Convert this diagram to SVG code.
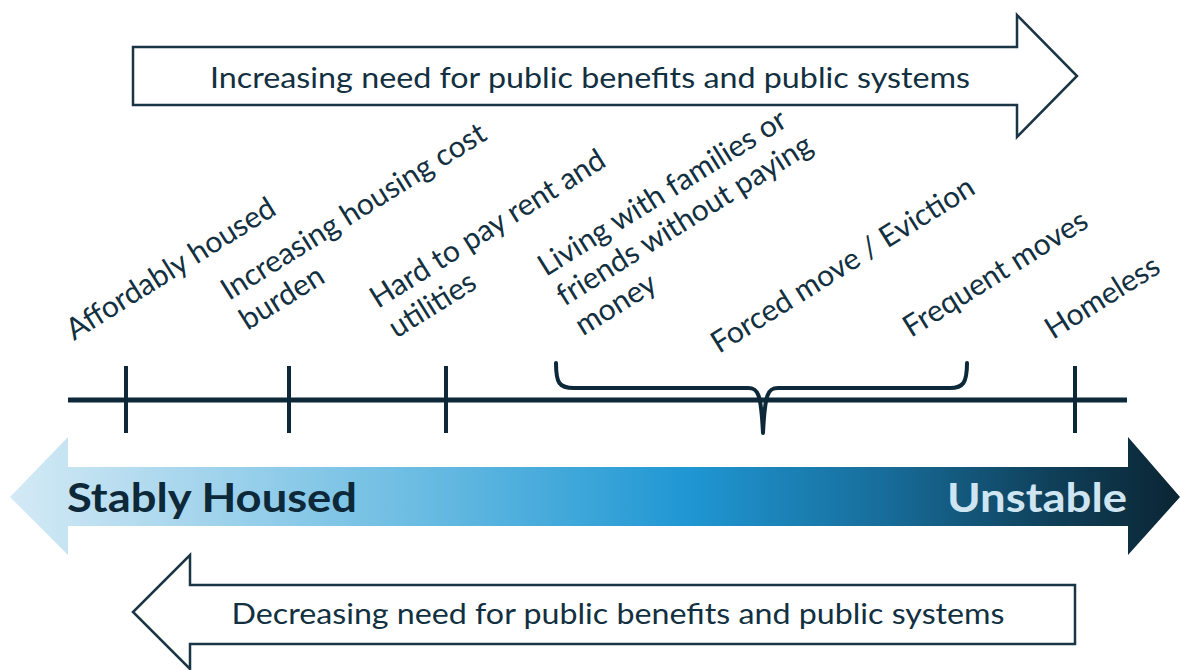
<svg xmlns="http://www.w3.org/2000/svg" width="1180" height="670" viewBox="0 0 1180 670">
<defs>
<linearGradient id="grad" gradientUnits="userSpaceOnUse" x1="10" y1="0" x2="1180" y2="0">
<stop offset="0" stop-color="#d4eaf5"/>
<stop offset="0.15" stop-color="#a8d6ed"/>
<stop offset="0.35" stop-color="#6abce2"/>
<stop offset="0.58" stop-color="#1f97d3"/>
<stop offset="0.75" stop-color="#176c99"/>
<stop offset="0.9" stop-color="#0f3d56"/>
<stop offset="1" stop-color="#0b2533"/>
</linearGradient>
<style>
.out{fill:#fff;stroke:#1a3545;stroke-width:2.5;stroke-linejoin:miter}
.big{font-family:Lato,"Liberation Sans",sans-serif;font-size:29px;fill:#12303f}
.lbl{font-family:Lato,"Liberation Sans",sans-serif;font-size:30px;fill:#12303f}
.ax{stroke:#0d2838;stroke-width:5;fill:none;stroke-linecap:butt}
.tick{stroke:#0d2838;stroke-width:4;fill:none}
.brace{stroke:#0d2838;stroke-width:4;fill:none;stroke-linecap:round;stroke-linejoin:round}
.bold{font-family:Lato,"Liberation Sans",sans-serif;font-weight:bold;font-size:40px}
</style>
</defs>
<rect width="1180" height="670" fill="#fff"/>

<g id="increasing-arrow">
<path class="out" d="M133,47 L1017,47 L1017,15 L1077,76 L1017,137 L1017,105 L133,105 Z"/>
<text class="big" x="590" y="88" text-anchor="middle" textLength="760" lengthAdjust="spacingAndGlyphs">Increasing need for public benefits and public systems</text>
</g>

<g id="labels">
<g id="affordably-housed" transform="translate(74,341) rotate(-32)"><text class="lbl" x="0" y="0">Affordably housed</text></g>
<g id="increasing-cost" transform="translate(229,301) rotate(-32)"><text class="lbl" x="0" y="0">Increasing housing cost<tspan x="0" dy="35">burden</tspan></text></g>
<g id="hard-to-pay" transform="translate(378,309) rotate(-32)"><text class="lbl" x="0" y="0">Hard to pay rent and<tspan x="0" dy="35">utilities</tspan></text></g>
<g id="living-with" transform="translate(546,277) rotate(-32)"><text class="lbl" x="0" y="0">Living with families or<tspan x="0" dy="35">friends without paying</tspan><tspan x="0" dy="35">money</tspan></text></g>
<g id="forced-move" transform="translate(719,354) rotate(-32)"><text class="lbl" x="0" y="0">Forced move / Eviction</text></g>
<g id="frequent-moves" transform="translate(911,338) rotate(-32)"><text class="lbl" x="0" y="0">Frequent moves</text></g>
<g id="homeless" transform="translate(1053,340) rotate(-32)"><text class="lbl" x="0" y="0">Homeless</text></g>
</g>

<g id="timeline">
<path class="ax" d="M68,400 H1127"/>
<path class="tick" d="M126,366 V433 M289,366 V433 M446,366 V433 M1075,366 V433"/>
<path class="brace" d="M556,363 C556,383 559,388 574,388 L748,388 C758,388 761,393 763,433 C765,393 768,388 778,388 L950,388 C963,388 967,383 967,363"/>
</g>

<g id="stability-arrow">
<path fill="url(#grad)" d="M10,497 L68,437 L68,467 L1128,467 L1128,437 L1180,497 L1128,555 L1128,526 L68,526 L68,555 Z"/>
<text class="bold" x="67" y="512" fill="#0d2838" textLength="290" lengthAdjust="spacingAndGlyphs">Stably Housed</text>
<text class="bold" x="1127" y="512" fill="#cfe6f2" text-anchor="end" textLength="180" lengthAdjust="spacingAndGlyphs">Unstable</text>
</g>

<g id="decreasing-arrow">
<path class="out" d="M1075,585 L190,585 L190,555 L133,612 L190,669 L190,644 L1075,644 Z"/>
<text class="big" x="618" y="624" text-anchor="middle" textLength="773" lengthAdjust="spacingAndGlyphs">Decreasing need for public benefits and public systems</text>
</g>
</svg>
